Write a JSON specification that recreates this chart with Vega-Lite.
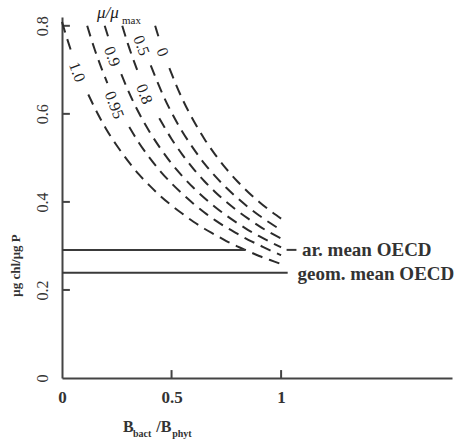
{
  "$schema": "https://vega.github.io/schema/vega-lite/v6.json",
  "width": 390,
  "height": 361,
  "autosize": {"type": "none"},
  "padding": {"left": 62, "top": 17, "right": 2, "bottom": 64},
  "background": "white",
  "config": {"view": {"stroke": null}, "font": "Liberation Serif"},
  "datasets": {
    "curves": [
      {"seg": "1.0a", "x": 0, "y": 0.809}, {"seg": "1.0a", "x": 0.02, "y": 0.776}, {"seg": "1.0a", "x": 0.04, "y": 0.745},
      {"seg": "1.0b", "x": 0.12, "y": 0.644}, {"seg": "1.0b", "x": 0.15, "y": 0.613}, {"seg": "1.0b", "x": 0.2, "y": 0.567}, {"seg": "1.0b", "x": 0.25, "y": 0.528}, {"seg": "1.0b", "x": 0.3, "y": 0.494}, {"seg": "1.0b", "x": 0.35, "y": 0.463}, {"seg": "1.0b", "x": 0.4, "y": 0.437}, {"seg": "1.0b", "x": 0.45, "y": 0.413}, {"seg": "1.0b", "x": 0.5, "y": 0.392}, {"seg": "1.0b", "x": 0.55, "y": 0.373}, {"seg": "1.0b", "x": 0.6, "y": 0.355}, {"seg": "1.0b", "x": 0.65, "y": 0.339}, {"seg": "1.0b", "x": 0.7, "y": 0.325}, {"seg": "1.0b", "x": 0.75, "y": 0.311}, {"seg": "1.0b", "x": 0.8, "y": 0.299}, {"seg": "1.0b", "x": 0.85, "y": 0.288}, {"seg": "1.0b", "x": 0.9, "y": 0.277}, {"seg": "1.0b", "x": 0.95, "y": 0.268}, {"seg": "1.0b", "x": 1.0, "y": 0.259},
      {"seg": "0.95a", "x": 0.115, "y": 0.8}, {"seg": "0.95a", "x": 0.15, "y": 0.745}, {"seg": "0.95a", "x": 0.18, "y": 0.704}, {"seg": "0.95a", "x": 0.207, "y": 0.67},
      {"seg": "0.95b", "x": 0.307, "y": 0.57}, {"seg": "0.95b", "x": 0.35, "y": 0.535}, {"seg": "0.95b", "x": 0.4, "y": 0.5}, {"seg": "0.95b", "x": 0.45, "y": 0.469}, {"seg": "0.95b", "x": 0.5, "y": 0.442}, {"seg": "0.95b", "x": 0.55, "y": 0.418}, {"seg": "0.95b", "x": 0.6, "y": 0.396}, {"seg": "0.95b", "x": 0.65, "y": 0.376}, {"seg": "0.95b", "x": 0.7, "y": 0.358}, {"seg": "0.95b", "x": 0.75, "y": 0.342}, {"seg": "0.95b", "x": 0.8, "y": 0.328}, {"seg": "0.95b", "x": 0.85, "y": 0.314}, {"seg": "0.95b", "x": 0.9, "y": 0.302}, {"seg": "0.95b", "x": 0.95, "y": 0.29}, {"seg": "0.95b", "x": 1.0, "y": 0.279},
      {"seg": "0.9a", "x": 0.195, "y": 0.8}, {"seg": "0.9a", "x": 0.212, "y": 0.773},
      {"seg": "0.9b", "x": 0.271, "y": 0.69}, {"seg": "0.9b", "x": 0.3, "y": 0.655}, {"seg": "0.9b", "x": 0.35, "y": 0.603}, {"seg": "0.9b", "x": 0.4, "y": 0.559}, {"seg": "0.9b", "x": 0.45, "y": 0.521}, {"seg": "0.9b", "x": 0.5, "y": 0.487}, {"seg": "0.9b", "x": 0.55, "y": 0.458}, {"seg": "0.9b", "x": 0.6, "y": 0.432}, {"seg": "0.9b", "x": 0.65, "y": 0.409}, {"seg": "0.9b", "x": 0.7, "y": 0.388}, {"seg": "0.9b", "x": 0.75, "y": 0.369}, {"seg": "0.9b", "x": 0.8, "y": 0.352}, {"seg": "0.9b", "x": 0.85, "y": 0.336}, {"seg": "0.9b", "x": 0.9, "y": 0.322}, {"seg": "0.9b", "x": 0.95, "y": 0.309}, {"seg": "0.9b", "x": 1.0, "y": 0.297},
      {"seg": "0.8a", "x": 0.275, "y": 0.8}, {"seg": "0.8a", "x": 0.3, "y": 0.76}, {"seg": "0.8a", "x": 0.32, "y": 0.731}, {"seg": "0.8a", "x": 0.343, "y": 0.7},
      {"seg": "0.8b", "x": 0.444, "y": 0.59}, {"seg": "0.8b", "x": 0.5, "y": 0.543}, {"seg": "0.8b", "x": 0.55, "y": 0.507}, {"seg": "0.8b", "x": 0.6, "y": 0.475}, {"seg": "0.8b", "x": 0.65, "y": 0.447}, {"seg": "0.8b", "x": 0.7, "y": 0.422}, {"seg": "0.8b", "x": 0.75, "y": 0.4}, {"seg": "0.8b", "x": 0.8, "y": 0.38}, {"seg": "0.8b", "x": 0.85, "y": 0.362}, {"seg": "0.8b", "x": 0.9, "y": 0.345}, {"seg": "0.8b", "x": 0.95, "y": 0.33}, {"seg": "0.8b", "x": 1.0, "y": 0.317},
      {"seg": "0.5b", "x": 0.405, "y": 0.71}, {"seg": "0.5b", "x": 0.43, "y": 0.679}, {"seg": "0.5b", "x": 0.47, "y": 0.633}, {"seg": "0.5b", "x": 0.5, "y": 0.603}, {"seg": "0.5b", "x": 0.55, "y": 0.559}, {"seg": "0.5b", "x": 0.6, "y": 0.521}, {"seg": "0.5b", "x": 0.65, "y": 0.487}, {"seg": "0.5b", "x": 0.7, "y": 0.458}, {"seg": "0.5b", "x": 0.75, "y": 0.432}, {"seg": "0.5b", "x": 0.8, "y": 0.409}, {"seg": "0.5b", "x": 0.85, "y": 0.388}, {"seg": "0.5b", "x": 0.9, "y": 0.369}, {"seg": "0.5b", "x": 0.95, "y": 0.352}, {"seg": "0.5b", "x": 1.0, "y": 0.336},
      {"seg": "0a", "x": 0.425, "y": 0.8}, {"seg": "0a", "x": 0.44, "y": 0.776},
      {"seg": "0b", "x": 0.49, "y": 0.704}, {"seg": "0b", "x": 0.52, "y": 0.667}, {"seg": "0b", "x": 0.55, "y": 0.633}, {"seg": "0b", "x": 0.6, "y": 0.585}, {"seg": "0b", "x": 0.65, "y": 0.543}, {"seg": "0b", "x": 0.7, "y": 0.507}, {"seg": "0b", "x": 0.75, "y": 0.475}, {"seg": "0b", "x": 0.8, "y": 0.447}, {"seg": "0b", "x": 0.85, "y": 0.422}, {"seg": "0b", "x": 0.9, "y": 0.4}, {"seg": "0b", "x": 0.95, "y": 0.38}, {"seg": "0b", "x": 1.0, "y": 0.362}
    ],
    "refs": [
      {"x": 0, "x2": 0.836, "y": 0.291},
      {"x": 1.025, "x2": 1.07, "y": 0.291},
      {"x": 0, "x2": 1.03, "y": 0.239}
    ],
    "xTicks": [{"x": 0.5, "y": 0}, {"x": 1, "y": 0}],
    "yTicks": [{"x": 0, "y": 0.2}, {"x": 0, "y": 0.4}, {"x": 0, "y": 0.6}, {"x": 0, "y": 0.8}],
    "curveLabels": [
      {"t": "0", "x": 0.458, "y": 0.74},
      {"t": "0.5", "x": 0.362, "y": 0.755},
      {"t": "0.8", "x": 0.375, "y": 0.645},
      {"t": "0.9", "x": 0.228, "y": 0.73},
      {"t": "0.95", "x": 0.238, "y": 0.62},
      {"t": "1.0", "x": 0.068, "y": 0.695}
    ],
    "refLabels": [
      {"t": "ar. mean OECD", "x": 1.095, "y": 0.291},
      {"t": "geom. mean OECD", "x": 1.075, "y": 0.237}
    ],
    "titleBig": [
      {"t": "B", "x": 0.278, "y": -0.123},
      {"t": "/B", "x": 0.43, "y": -0.123}
    ],
    "titleSmall": [
      {"t": "bact", "x": 0.324, "y": -0.133},
      {"t": "phyt", "x": 0.503, "y": -0.133}
    ],
    "muBig": [
      {"t": "μ/μ", "x": 0.16, "y": 0.818}
    ],
    "muSmall": [
      {"t": "max", "x": 0.274, "y": 0.805}
    ]
  },
  "encoding": {
    "x": {
      "field": "x", "type": "quantitative",
      "scale": {"domain": [0, 1.78], "nice": false, "zero": false},
      "axis": {
        "values": [0, 0.5, 1], "format": "~g", "title": null, "grid": false,
        "domainColor": "#444", "domainWidth": 2, "tickOpacity": 0, "tickSize": -8,
        "labelFont": "Liberation Serif", "labelFontSize": 17, "labelFontWeight": "bold", "labelColor": "#333",
        "labelPadding": 19, "labelFlush": false
      }
    },
    "y": {
      "field": "y", "type": "quantitative",
      "scale": {"domain": [0, 0.82], "nice": false, "zero": false},
      "axis": {
        "values": [0, 0.2, 0.4, 0.6, 0.8], "format": "~g", "title": "μg chl/μg P", "grid": false,
        "domainColor": "#444", "domainWidth": 2, "tickOpacity": 0, "tickSize": -8,
        "labelFont": "Liberation Serif", "labelFontSize": 16, "labelColor": "#333", "labelAngle": 270,
        "labelPadding": 20, "labelFlush": false,
        "titleX": -47, "titleY": 248, "titleAngle": 270, "titleAlign": "center", "titleBaseline": "middle",
        "titleFont": "Liberation Serif", "titleFontSize": 13, "titleFontWeight": "bold", "titleColor": "#333"
      }
    }
  },
  "layer": [
    {
      "data": {"name": "xTicks"},
      "mark": {"type": "rule", "stroke": "#444", "strokeWidth": 2},
      "encoding": {"y2": {"datum": 0.018}}
    },
    {
      "data": {"name": "yTicks"},
      "mark": {"type": "rule", "stroke": "#444", "strokeWidth": 2},
      "encoding": {"x2": {"datum": 0.036}}
    },
    {
      "data": {"name": "curves"},
      "mark": {"type": "line", "strokeDash": [11, 7], "stroke": "#2b2b2b", "strokeWidth": 2, "interpolate": "monotone"},
      "encoding": {"detail": {"field": "seg", "type": "nominal"}}
    },
    {
      "data": {"name": "refs"},
      "mark": {"type": "rule", "stroke": "#3a3a3a", "strokeWidth": 2},
      "encoding": {"x2": {"field": "x2"}}
    },
    {
      "data": {"name": "curveLabels"},
      "mark": {"type": "text", "angle": 69, "fontSize": 16, "align": "center", "baseline": "middle", "font": "Liberation Serif", "color": "#222"},
      "encoding": {"text": {"field": "t"}}
    },
    {
      "data": {"name": "refLabels"},
      "mark": {"type": "text", "align": "left", "baseline": "middle", "fontSize": 19, "fontWeight": "bold", "font": "Liberation Serif", "color": "#333"},
      "encoding": {"text": {"field": "t"}}
    },
    {
      "data": {"name": "titleBig"},
      "mark": {"type": "text", "align": "left", "baseline": "alphabetic", "fontSize": 16, "fontWeight": "bold", "font": "Liberation Serif", "color": "#333"},
      "encoding": {"text": {"field": "t"}}
    },
    {
      "data": {"name": "titleSmall"},
      "mark": {"type": "text", "align": "left", "baseline": "alphabetic", "fontSize": 10, "fontWeight": "bold", "font": "Liberation Serif", "color": "#333"},
      "encoding": {"text": {"field": "t"}}
    },
    {
      "data": {"name": "muBig"},
      "mark": {"type": "text", "align": "left", "baseline": "alphabetic", "fontSize": 17, "fontStyle": "italic", "font": "Liberation Serif", "color": "#222"},
      "encoding": {"text": {"field": "t"}}
    },
    {
      "data": {"name": "muSmall"},
      "mark": {"type": "text", "align": "left", "baseline": "alphabetic", "fontSize": 11, "font": "Liberation Serif", "color": "#222"},
      "encoding": {"text": {"field": "t"}}
    }
  ]
}
